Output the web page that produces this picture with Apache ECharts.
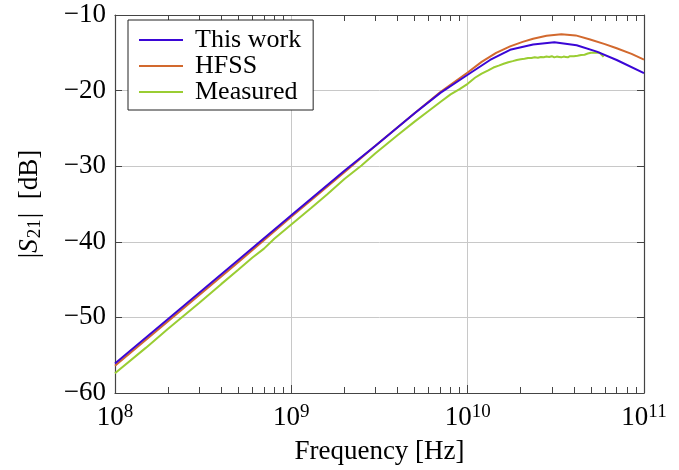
<!DOCTYPE html>
<html>
<head>
<meta charset="utf-8">
<script src="https://cdn.jsdelivr.net/npm/echarts@6/dist/echarts.min.js"></script>
<style>
  html, body { margin: 0; padding: 0; background: #fff; }
  #chart { width: 679px; height: 470px; }
</style>
</head>
<body>
<div id="chart"></div>
<script>
// frequencies in Hz, |S21| in dB
const thisWorkFreq = [1e8, 2e8, 5e8, 1e9, 2e9, 3e9, 5e9, 7e9, 1e10, 1.34e10, 1.74e10, 2.35e10, 3.1e10, 4.15e10, 5.4e10, 7e10, 1e11]
const thisWorkDb = [-56.1, -50.2, -42.4, -36.5, -30.6, -27.3, -23.0, -20.3, -17.9, -15.95, -14.6, -13.9, -13.6, -14.0, -14.85, -15.95, -17.7]

const hfssFreq = [1e8, 2e8, 5e8, 1e9, 2e9, 3e9, 5e9, 7e9, 1e10, 1.2e10, 1.45e10, 1.74e10, 2.05e10, 2.35e10, 2.8e10, 3.4e10, 4.1e10, 4.95e10, 6e10, 7e10, 8.5e10, 1e11]
const hfssDb = [-56.4, -50.5, -42.7, -36.7, -30.8, -27.3, -23.0, -20.2, -17.6, -16.2, -15.0, -14.15, -13.55, -13.15, -12.75, -12.55, -12.7, -13.25, -13.85, -14.4, -15.15, -15.9]

const measuredFreq = [
  1e8, 1.5e8, 2e8, 3e8, 4e8, 5e8, 6e8, 7e8, 8e8, 1e9, 1.3e9, 1.6e9, 2e9, 2.5e9, 3e9, 4e9, 5e9, 6e9, 7e9, 8e9, 9e9,
  10e9, 11e9, 12e9, 13e9, 14e9, 15e9, 16e9, 17e9, 18e9, 19e9, 20e9, 21e9, 22e9, 23e9, 24e9, 25e9, 26e9, 27e9, 28e9, 29e9,
  30e9, 31e9, 32e9, 33e9, 34e9, 35e9, 36e9, 37e9, 38e9, 39e9, 40e9, 41e9, 42e9, 43e9, 44e9, 45e9, 46e9, 47e9, 48e9, 49e9,
  50e9, 51e9, 52e9, 53e9, 54e9, 55e9, 56e9, 57e9, 58e9, 59e9
]
const measuredDb = [
  -57.4, -54.0, -51.5, -48.1, -45.6, -43.7, -42.1, -40.9, -39.6, -37.7, -35.5, -33.7, -31.7, -29.9, -28.3, -25.9, -24.1, -22.7, -21.5, -20.5, -19.8,
  -19.1, -18.3, -17.75, -17.35, -16.95, -16.7, -16.45, -16.25, -16.1, -15.95, -15.85, -15.8, -15.7, -15.7, -15.6, -15.65, -15.55, -15.6, -15.5, -15.55,
  -15.45, -15.6, -15.5, -15.55, -15.6, -15.5, -15.55, -15.6, -15.45, -15.5, -15.45, -15.35, -15.4, -15.3, -15.3, -15.2, -15.25, -15.15, -15.1, -15.1,
  -15.0, -14.95, -15.0, -14.9, -14.95, -14.9, -15.0, -15.1, -15.35, -15.55
]

const minorFreq = [2e8, 3e8, 4e8, 5e8, 6e8, 7e8, 8e8, 9e8, 2e9, 3e9, 4e9, 5e9, 6e9, 7e9, 8e9, 9e9, 2e10, 3e10, 4e10, 5e10, 6e10, 7e10, 8e10, 9e10]

const FONT = 'Liberation Serif'
const AXIS_COLOR = '#444'
const GRID_COLOR = '#c8c8c8'

const zip = (xs, ys) => xs.map((x, i) => [x, ys[i]])
const minorLog = minorFreq.map(f => Math.log10(f))

const chart = echarts.init(document.getElementById('chart'))

const helperX = (position, showLine) => ({
  type: 'value',
  position,
  min: 8,
  max: 11,
  axisLine: { show: showLine, onZero: false, lineStyle: { color: AXIS_COLOR, width: 1.2 } },
  axisTick: { show: true, inside: true, length: 6, customValues: minorLog, lineStyle: { color: AXIS_COLOR } },
  axisLabel: { show: false },
  splitLine: { show: false }
})

const option = {
  animation: false,
  backgroundColor: '#fff',
  textStyle: { fontFamily: FONT },
  grid: { left: 115, right: 35, top: 15, bottom: 77, outerBoundsMode: 'none' },
  legend: {
    orient: 'vertical',
    left: 128,
    top: 20,
    padding: [7, 12, 5, 11],
    itemGap: 0,
    itemWidth: 44,
    itemHeight: 2,
    icon: 'rect',
    borderColor: '#222',
    borderWidth: 1,
    borderRadius: 0,
    backgroundColor: '#fff',
    textStyle: { fontFamily: FONT, fontSize: 26, color: '#000', padding: [0, 0, 0, 7] },
    data: ['This work', 'HFSS', 'Measured']
  },
  xAxis: [
    {
      type: 'log',
      logBase: 10,
      min: 1e8,
      max: 1e11,
      position: 'bottom',
      name: 'Frequency [Hz]',
      nameLocation: 'middle',
      nameGap: 45,
      nameTextStyle: { fontFamily: FONT, fontSize: 27, color: '#000' },
      axisLine: { show: true, onZero: false, lineStyle: { color: AXIS_COLOR, width: 1.2 } },
      axisTick: { show: true, inside: true, length: 8, lineStyle: { color: AXIS_COLOR } },
      splitLine: { show: true, lineStyle: { color: GRID_COLOR, width: 1 } },
      axisLabel: {
        margin: 10,
        formatter: v => '{b|10}{s|' + Math.round(Math.log10(v)) + '}',
        rich: {
          b: { fontFamily: FONT, fontSize: 27, color: '#000', lineHeight: 30 },
          s: { fontFamily: FONT, fontSize: 19, color: '#000', verticalAlign: 'top', lineHeight: 18 }
        }
      }
    },
    helperX('bottom', false),
    helperX('top', true)
  ],
  yAxis: [
    {
      type: 'value',
      position: 'left',
      min: -60,
      max: -10,
      interval: 10,
      name: '|{i|S}{sub|21}|  [dB]',
      nameLocation: 'middle',
      nameGap: 70,
      nameRotate: 90,
      nameTextStyle: {
        fontFamily: FONT, fontSize: 27, color: '#000',
        rich: {
          i: { fontFamily: FONT, fontSize: 27, fontStyle: 'italic', color: '#000' },
          sub: { fontFamily: FONT, fontSize: 19, color: '#000', verticalAlign: 'bottom', padding: [12, 1, 0, 1] }
        }
      },
      axisLine: { show: true, onZero: false, lineStyle: { color: AXIS_COLOR, width: 1.2 } },
      axisTick: { show: true, inside: true, length: 7, lineStyle: { color: AXIS_COLOR } },
      splitLine: { show: true, lineStyle: { color: GRID_COLOR, width: 1 } },
      axisLabel: {
        margin: 9,
        fontFamily: FONT,
        fontSize: 27,
        color: '#000',
        formatter: v => String(v).replace('-', '\u2212')
      }
    },
    {
      type: 'value',
      position: 'right',
      min: -60,
      max: -10,
      interval: 10,
      axisLine: { show: true, onZero: false, lineStyle: { color: AXIS_COLOR, width: 1.2 } },
      axisTick: { show: true, inside: true, length: 7, lineStyle: { color: AXIS_COLOR } },
      axisLabel: { show: false },
      splitLine: { show: false }
    }
  ],
  series: [
    {
      name: 'This work',
      type: 'line',
      symbol: 'none',
      color: '#3a06d6',
      lineStyle: { width: 2 },
      data: zip(thisWorkFreq, thisWorkDb),
      z: 4
    },
    {
      name: 'HFSS',
      type: 'line',
      symbol: 'none',
      color: '#d2692e',
      lineStyle: { width: 2 },
      data: zip(hfssFreq, hfssDb),
      z: 3
    },
    {
      name: 'Measured',
      type: 'line',
      symbol: 'none',
      color: '#9acd32',
      lineStyle: { width: 2 },
      data: zip(measuredFreq, measuredDb),
      z: 2
    }
  ]
}

chart.setOption(option)
</script>
</body>
</html>
